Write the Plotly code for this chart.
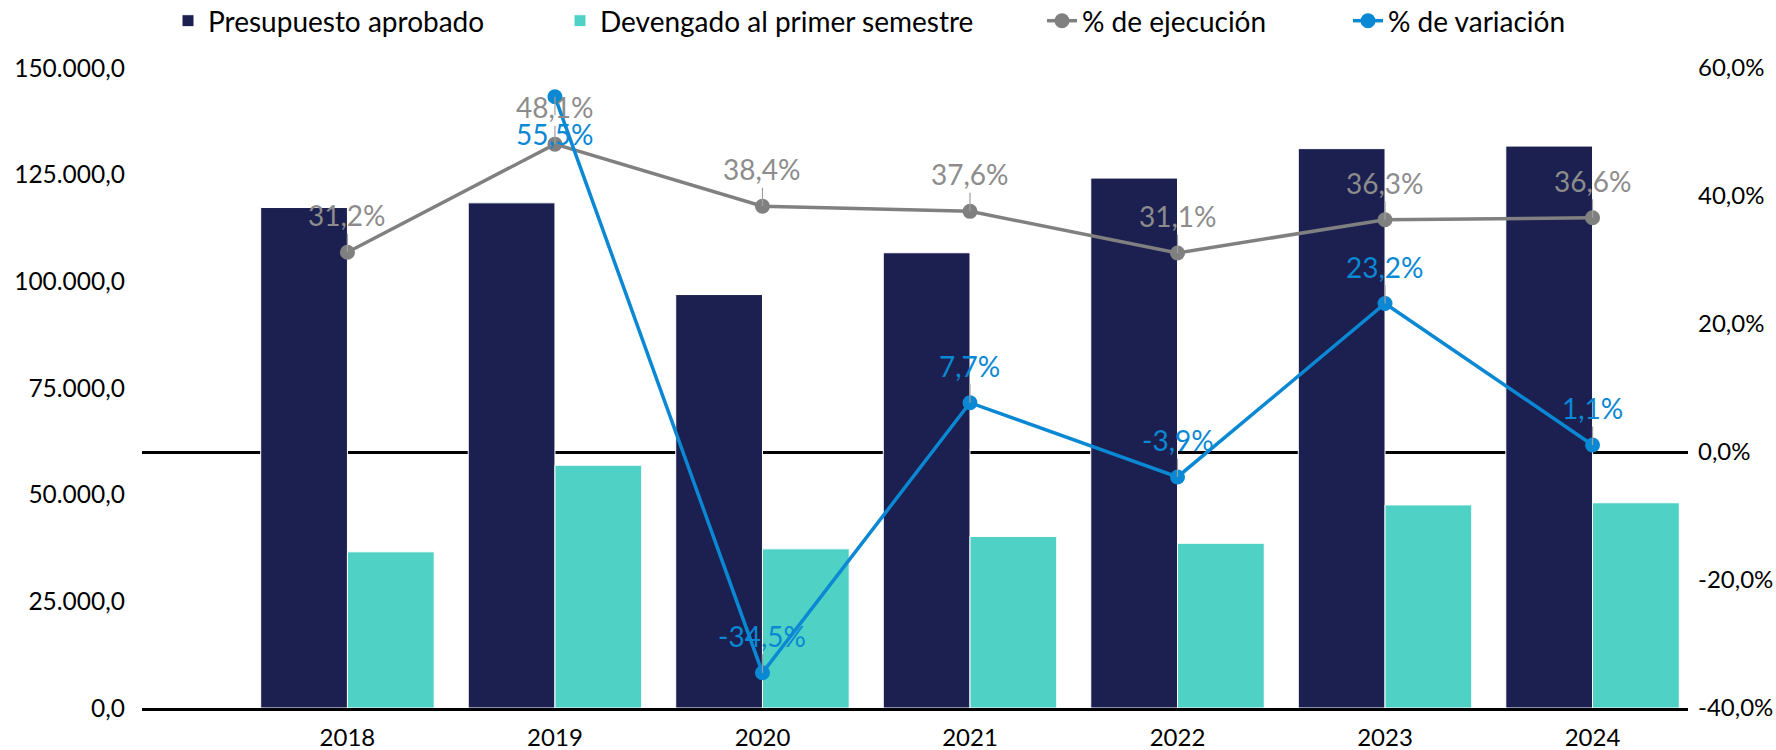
import plotly.graph_objects as go

# ---- data ----
years = ["2018", "2019", "2020", "2021", "2022", "2023", "2024"]
presupuesto = [117300, 118400, 96900, 106700, 124200, 131100, 131700]
devengado = [36600, 56900, 37300, 40200, 38600, 47600, 48100]
ejecucion = [31.2, 48.1, 38.4, 37.6, 31.1, 36.3, 36.6]
variacion = [None, 55.5, -34.5, 7.7, -3.9, 23.2, 1.1]

left_ticks = [0, 25000, 50000, 75000, 100000, 125000, 150000]
right_ticks = [-40, -20, 0, 20, 40, 60]
right_labels = ["-40,0%", "-20,0%", "0,0%", "20,0%", "40,0%", "60,0%"]

NAVY = "#1B2050"
TEAL = "#4FD1C5"
GRAY = "#808080"
BLUE = "#0A88D4"
FONT = "Lato"
W, H = 1776, 750

fig = go.Figure()
fig.add_trace(go.Bar(x=years, y=presupuesto, name="Presupuesto aprobado", legend="legend",
                     marker=dict(color=NAVY, line=dict(color="white", width=1))))
fig.add_trace(go.Bar(x=years, y=devengado, name="Devengado al primer semestre", legend="legend2",
                     marker=dict(color=TEAL, line=dict(color="white", width=1))))
fig.add_trace(go.Scatter(x=years, y=ejecucion, name="% de ejecución", yaxis="y2", legend="legend3",
                         mode="lines+markers", line=dict(color=GRAY, width=3.5),
                         marker=dict(color=GRAY, size=15)))
fig.add_trace(go.Scatter(x=years, y=variacion, name="% de variación", yaxis="y2", legend="legend4",
                         mode="lines+markers", line=dict(color=BLUE, width=3.5),
                         marker=dict(color=BLUE, size=15)))


def fmt(v):
    return f"{v:.1f}%".replace(".", ",")


vmax = max(v for v in variacion if v is not None)
annotations = []
for series, color in ((ejecucion, "#8C8C8C"), (variacion, BLUE)):
    for i, v in enumerate(series):
        if v is None:
            continue
        below = (series is variacion and v == vmax)
        annotations.append(dict(
            x=i, y=v, xref="x", yref="y2", text=fmt(v),
            showarrow=True, arrowhead=0, arrowwidth=1.2, arrowcolor="#A0A0A0",
            ax=0, ay=37 if below else -37, standoff=0,
            font=dict(family=FONT, size=28, color=color)))


def leg(text_x):
    return dict(orientation="h", xref="container", yref="container",
                x=(text_x - 40) / W, xanchor="left", y=1 - 21 / H, yanchor="middle",
                font=dict(family=FONT, size=28, color="#000000"),
                bgcolor="rgba(0,0,0,0)")


fig.update_layout(
    width=W, height=H,
    margin=dict(l=142, r=88, t=68, b=42),
    paper_bgcolor="white", plot_bgcolor="white",
    separators=",.",
    showlegend=True,
    barmode="group", bargap=0.164, bargroupgap=0,
    font=dict(family=FONT, size=24, color="#000000"),
    legend=leg(208), legend2=leg(600), legend3=leg(1082), legend4=leg(1388),
    xaxis=dict(type="category", range=[-0.99, 6.46], showgrid=False, automargin=False,
               showline=True, linecolor="black", linewidth=2.5,
               ticks="", ticklabelstandoff=6,
               tickfont=dict(family=FONT, size=24, color="#000000")),
    yaxis=dict(range=[0, 150000], tickvals=left_ticks, tickformat=",.1f",
               showgrid=False, zeroline=False, showline=False, ticks="",
               ticklabelstandoff=16, automargin=False,
               tickfont=dict(family=FONT, size=24.5, color="#000000")),
    yaxis2=dict(range=[-40, 60], overlaying="y", side="right",
                tickvals=right_ticks, ticktext=right_labels, automargin=False,
                showgrid=False, zeroline=True, zerolinecolor="black", zerolinewidth=2.5,
                showline=False, ticks="", ticklabelstandoff=9,
                tickfont=dict(family=FONT, size=24, color="#000000")),
    annotations=annotations,
)

fig.write_html("out.html", config={"displayModeBar": False},
               post_script="document.body.style.margin='0';document.body.style.overflow='hidden';")
